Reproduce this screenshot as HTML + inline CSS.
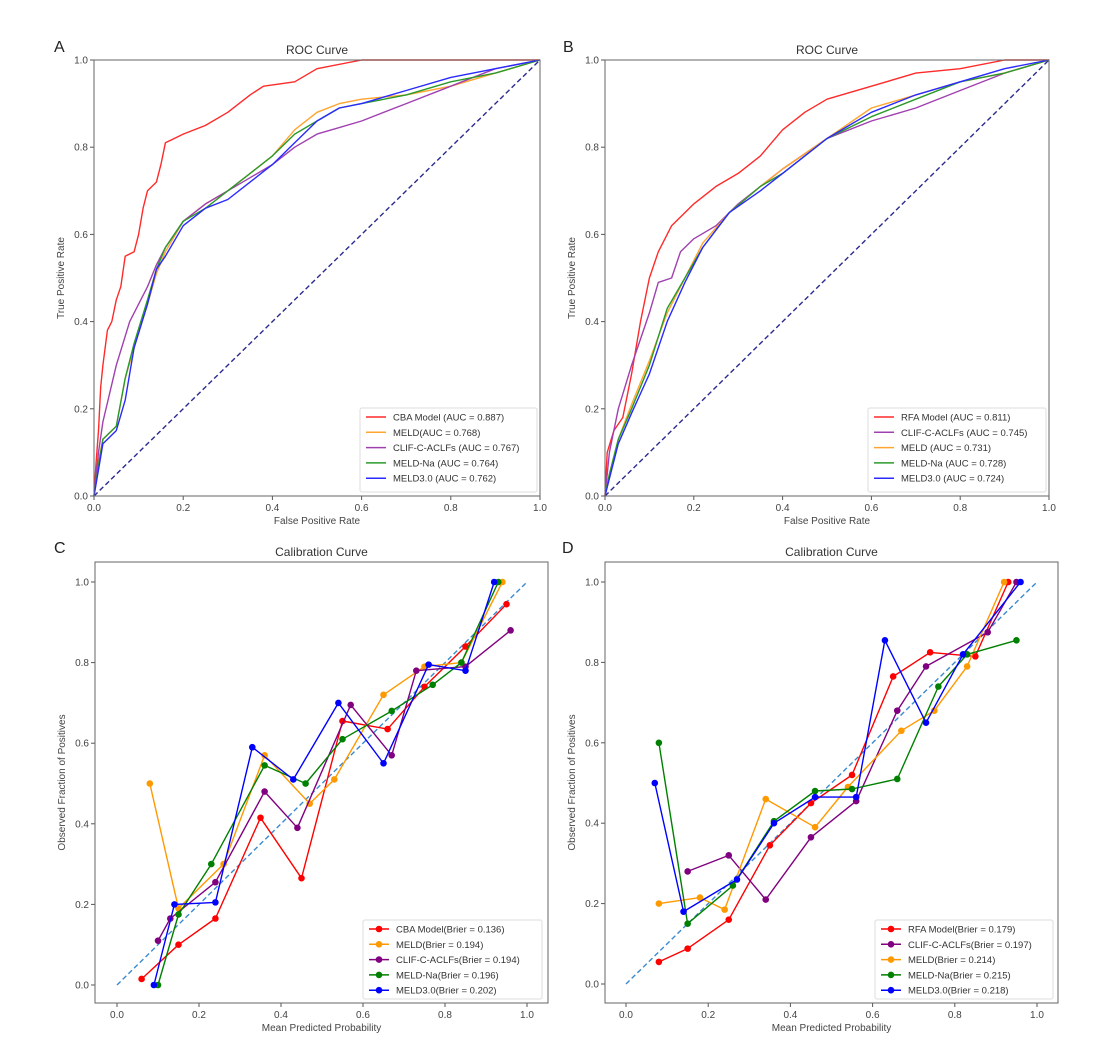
<!DOCTYPE html>
<html><head><meta charset="utf-8"><style>
html,body{margin:0;padding:0;background:#fff;}
svg{display:block;font-family:"Liberation Sans","DejaVu Sans",sans-serif;}
</style></head><body>
<svg id="fig" width="1119" height="1059" viewBox="0 0 1119 1059" xmlns="http://www.w3.org/2000/svg"></svg>
<script>
// ---- Data ----
const rocA_names = ["CBA Model (AUC = 0.887)","MELD(AUC = 0.768)","CLIF-C-ACLFs (AUC = 0.767)","MELD-Na (AUC = 0.764)","MELD3.0 (AUC = 0.762)"];
const rocA_colors = ["#ff2a2a","#ffa530","#a040b0","#2a9a2a","#2a2aff"];
const rocA_red_x = [0,0.005,0.01,0.015,0.02,0.03,0.04,0.05,0.06,0.07,0.09,0.1,0.11,0.12,0.14,0.15,0.16,0.18,0.2,0.25,0.3,0.35,0.38,0.45,0.5,0.6,0.78,1];
const rocA_red_y = [0,0.08,0.15,0.25,0.3,0.38,0.40,0.45,0.48,0.55,0.56,0.6,0.66,0.7,0.72,0.76,0.81,0.82,0.83,0.85,0.88,0.92,0.94,0.95,0.98,1.0,1.0,1];
const rocA_orange_x = [0,0.01,0.02,0.05,0.07,0.09,0.12,0.14,0.16,0.2,0.25,0.3,0.35,0.4,0.45,0.5,0.55,0.6,0.7,0.8,0.9,1];
const rocA_orange_y = [0,0.08,0.13,0.16,0.27,0.34,0.44,0.51,0.56,0.63,0.67,0.70,0.74,0.78,0.84,0.88,0.90,0.91,0.92,0.94,0.97,1];
const rocA_purple_x = [0,0.01,0.02,0.05,0.08,0.12,0.14,0.16,0.2,0.25,0.3,0.35,0.4,0.45,0.5,0.6,0.7,0.8,0.9,1];
const rocA_purple_y = [0,0.1,0.17,0.30,0.40,0.48,0.53,0.57,0.63,0.67,0.70,0.73,0.76,0.80,0.83,0.86,0.90,0.94,0.98,1];
const rocA_green_x = [0,0.01,0.02,0.05,0.07,0.09,0.12,0.14,0.16,0.2,0.25,0.3,0.35,0.4,0.45,0.5,0.55,0.6,0.7,0.8,0.9,1];
const rocA_green_y = [0,0.07,0.13,0.16,0.27,0.35,0.45,0.52,0.57,0.63,0.66,0.70,0.74,0.78,0.83,0.86,0.89,0.90,0.92,0.95,0.97,1];
const rocA_blue_x = [0,0.01,0.02,0.05,0.07,0.09,0.12,0.14,0.16,0.2,0.25,0.3,0.35,0.4,0.45,0.5,0.55,0.6,0.7,0.8,0.9,1];
const rocA_blue_y = [0,0.06,0.12,0.15,0.22,0.34,0.44,0.52,0.55,0.62,0.66,0.68,0.72,0.76,0.81,0.86,0.89,0.90,0.93,0.96,0.98,1];

const rocB_names = ["RFA Model (AUC = 0.811)","CLIF-C-ACLFs (AUC = 0.745)","MELD (AUC = 0.731)","MELD-Na (AUC = 0.728)","MELD3.0 (AUC = 0.724)"];
const rocB_colors = ["#ff2a2a","#a040b0","#ffa530","#2a9a2a","#2a2aff"];
const rocB_red_x = [0,0.005,0.02,0.04,0.06,0.08,0.1,0.12,0.15,0.2,0.25,0.3,0.35,0.4,0.45,0.5,0.6,0.7,0.8,0.9,1];
const rocB_red_y = [0,0.1,0.15,0.18,0.28,0.40,0.50,0.56,0.62,0.67,0.71,0.74,0.78,0.84,0.88,0.91,0.94,0.97,0.98,1.0,1];
const rocB_purple_x = [0,0.01,0.03,0.06,0.1,0.12,0.15,0.17,0.2,0.25,0.3,0.4,0.5,0.6,0.7,0.8,0.9,1];
const rocB_purple_y = [0,0.1,0.2,0.3,0.42,0.49,0.5,0.56,0.59,0.62,0.67,0.75,0.82,0.86,0.89,0.93,0.97,1];
const rocB_orange_x = [0,0.01,0.03,0.06,0.1,0.14,0.18,0.22,0.28,0.35,0.4,0.5,0.6,0.7,0.8,0.9,1];
const rocB_orange_y = [0,0.05,0.13,0.21,0.31,0.42,0.50,0.58,0.65,0.71,0.75,0.82,0.89,0.92,0.95,0.97,1];
const rocB_green_x = [0,0.01,0.03,0.06,0.1,0.14,0.18,0.22,0.28,0.35,0.4,0.5,0.6,0.7,0.8,0.9,1];
const rocB_green_y = [0,0.05,0.13,0.2,0.30,0.43,0.50,0.57,0.65,0.71,0.74,0.82,0.87,0.91,0.95,0.97,1];
const rocB_blue_x = [0,0.01,0.03,0.06,0.1,0.14,0.18,0.22,0.28,0.35,0.4,0.5,0.6,0.7,0.8,0.9,1];
const rocB_blue_y = [0,0.04,0.12,0.19,0.28,0.40,0.49,0.57,0.65,0.70,0.74,0.82,0.88,0.92,0.95,0.98,1];

const calC_names = ["CBA Model(Brier = 0.136)","MELD(Brier = 0.194)","CLIF-C-ACLFs(Brier = 0.194)","MELD-Na(Brier = 0.196)","MELD3.0(Brier = 0.202)"];
const calC_colors = ["#ff0000","#ff9900","#800080","#008000","#0000ff"];
const calC_red_x = [0.06,0.15,0.24,0.35,0.45,0.55,0.66,0.75,0.85,0.95];
const calC_red_y = [0.015,0.10,0.165,0.415,0.265,0.655,0.635,0.74,0.84,0.945];
const calC_orange_x = [0.08,0.15,0.26,0.36,0.47,0.53,0.65,0.75,0.84,0.94];
const calC_orange_y = [0.50,0.19,0.30,0.57,0.45,0.51,0.72,0.79,0.80,1.0];
const calC_purple_x = [0.1,0.13,0.24,0.36,0.44,0.57,0.67,0.73,0.85,0.96];
const calC_purple_y = [0.11,0.165,0.255,0.48,0.39,0.695,0.57,0.78,0.79,0.88];
const calC_green_x = [0.1,0.15,0.23,0.36,0.46,0.55,0.67,0.77,0.84,0.93];
const calC_green_y = [0.0,0.175,0.30,0.545,0.50,0.61,0.68,0.745,0.80,1.0];
const calC_blue_x = [0.09,0.14,0.24,0.33,0.43,0.54,0.65,0.76,0.85,0.92];
const calC_blue_y = [0.0,0.20,0.205,0.59,0.51,0.70,0.55,0.795,0.78,1.0];

const calD_names = ["RFA Model(Brier = 0.179)","CLIF-C-ACLFs(Brier = 0.197)","MELD(Brier = 0.214)","MELD-Na(Brier = 0.215)","MELD3.0(Brier = 0.218)"];
const calD_colors = ["#ff0000","#800080","#ff9900","#008000","#0000ff"];
const calD_red_x = [0.08,0.15,0.25,0.35,0.45,0.55,0.65,0.74,0.85,0.93];
const calD_red_y = [0.055,0.088,0.16,0.345,0.45,0.52,0.765,0.825,0.815,1.0];
const calD_purple_x = [0.15,0.25,0.34,0.45,0.56,0.66,0.73,0.88,0.95];
const calD_purple_y = [0.28,0.32,0.21,0.365,0.455,0.68,0.79,0.875,1.0];
const calD_orange_x = [0.08,0.18,0.24,0.34,0.46,0.54,0.67,0.75,0.83,0.92];
const calD_orange_y = [0.20,0.215,0.185,0.46,0.39,0.49,0.63,0.68,0.79,1.0];
const calD_green_x = [0.08,0.15,0.26,0.36,0.46,0.55,0.66,0.76,0.83,0.95];
const calD_green_y = [0.60,0.15,0.245,0.405,0.48,0.485,0.51,0.74,0.82,0.855];
const calD_blue_x = [0.07,0.14,0.27,0.36,0.46,0.56,0.63,0.73,0.82,0.96];
const calD_blue_y = [0.50,0.18,0.26,0.40,0.465,0.465,0.855,0.65,0.82,1.0];

const rocTicks = [0,0.2,0.4,0.6,0.8,1.0];
const calTicks = [0,0.2,0.4,0.6,0.8,1.0];

// ---- Drawing ----
const svg = document.getElementById('fig');
const NS = 'http://www.w3.org/2000/svg';
function mk(tag, attrs, parent){const e=document.createElementNS(NS,tag);for(const k in attrs)e.setAttribute(k,attrs[k]);(parent||svg).appendChild(e);return e;}
function txt(s, attrs, parent){const e=mk('text',attrs,parent);e.textContent=s;return e;}

function panel(cfg){
  const g = mk('g',{});
  
  
  const sx = v => cfg.x0 + (v - cfg.dmin)/(cfg.dmax-cfg.dmin)*(cfg.x1-cfg.x0);
  const sy = v => cfg.y0 - (v - cfg.dmin)/(cfg.dmax-cfg.dmin)*(cfg.y0-cfg.y1);
  const [fl,ft,fr,fb] = cfg.frame;
  const L = txt(cfg.letter,{x:cfg.letterX,y:cfg.letterY,'font-size':16,fill:'#222'},g);
  
  
  const T = txt(cfg.title,{x:(fl+fr)/2,y:ft-6,'font-size':12,'text-anchor':'middle',fill:'#333'},g);
  
  
  // ticks
  cfg.ticks.forEach(t=>{
    const X=sx(t), Y=sy(t);
    mk('line',{x1:X,y1:fb,x2:X,y2:fb+4,stroke:'#555','stroke-width':1},g);
    const xl = txt(t.toFixed(1),{x:X,y:fb+15,'font-size':10,'text-anchor':'middle',fill:'#444'},g);
    
    
    mk('line',{x1:fl-4,y1:Y,x2:fl,y2:Y,stroke:'#555','stroke-width':1},g);
    const yl = txt(t.toFixed(1),{x:fl-6,y:Y+3.5,'font-size':10,'text-anchor':'end',fill:'#444'},g);
    
    
  });
  const xt = txt(cfg.xlabel,{x:(fl+fr)/2,y:fb+28,'font-size':10,'text-anchor':'middle',fill:'#444'},g);
  
  
  const yx = fl-30, yy=(ft+fb)/2;
  const yt = txt(cfg.ylabel,{x:yx,y:yy,'font-size':10,'text-anchor':'middle',fill:'#444',transform:`rotate(-90 ${yx} ${yy})`},g);
  
  
  // diagonal
  const d = mk('line',{x1:sx(0),y1:sy(0),x2:sx(1),y2:sy(1),stroke:cfg.diagColor,'stroke-width':1.4,'stroke-dasharray':'5,3'},g);
  
  
  // series
  cfg.series.forEach((s,i)=>{
    const pts = s.x.map((v,j)=>sx(v).toFixed(1)+','+sy(s.y[j]).toFixed(1)).join(' ');
    const p = mk('polyline',{points:pts,fill:'none',stroke:cfg.colors[i],'stroke-width':1.4,'stroke-linejoin':'round'},g);
    
    
    if(cfg.markers){
      s.x.forEach((v,j)=>{
        const c = mk('circle',{cx:sx(v),cy:sy(s.y[j]),r:3.3,fill:cfg.colors[i]},g);
        
        
      });
    }
  });
  // frame
  mk('rect',{x:fl,y:ft,width:fr-fl,height:fb-ft,fill:'none',stroke:'#666','stroke-width':1},g);
  // legend
  const [lx,ly,lw,lh] = cfg.legend;
  const lg = mk('g',{},g);
  
  
  mk('rect',{x:lx,y:ly,width:lw,height:lh,fill:'#fff','fill-opacity':0.85,stroke:'#ddd','stroke-width':1,rx:2},lg);
  cfg.names.forEach((n,i)=>{
    const yy2 = ly+9+i*15.3;
    mk('line',{x1:lx+6,y1:yy2,x2:lx+26,y2:yy2,stroke:cfg.colors[i],'stroke-width':1.5},lg);
    if(cfg.markers) mk('circle',{cx:lx+16,cy:yy2,r:3.3,fill:cfg.colors[i]},lg);
    const t = txt(n,{x:lx+33,y:yy2+3.5,'font-size':9.5,fill:'#333'},lg);
    
    
  });
}

panel({id:'roc-panel-a',letter:'A',letterX:54,letterY:52,title:'ROC Curve',xlabel:'False Positive Rate',ylabel:'True Positive Rate',
  x0:94,x1:540,y0:496,y1:60,dmin:0,dmax:1,frame:[94,60,540,496],ticks:rocTicks,diagColor:'#2a2a90',markers:false,
  colors:rocA_colors,names:rocA_names,legend:[360,408,177,84],
  series:[{x:rocA_red_x,y:rocA_red_y},{x:rocA_orange_x,y:rocA_orange_y},{x:rocA_purple_x,y:rocA_purple_y},{x:rocA_green_x,y:rocA_green_y},{x:rocA_blue_x,y:rocA_blue_y}]});
panel({id:'roc-panel-b',letter:'B',letterX:563,letterY:52,title:'ROC Curve',xlabel:'False Positive Rate',ylabel:'True Positive Rate',
  x0:605,x1:1049,y0:496,y1:60,dmin:0,dmax:1,frame:[605,60,1049,496],ticks:rocTicks,diagColor:'#2a2a90',markers:false,
  colors:rocB_colors,names:rocB_names,legend:[868,408,178,84],
  series:[{x:rocB_red_x,y:rocB_red_y},{x:rocB_purple_x,y:rocB_purple_y},{x:rocB_orange_x,y:rocB_orange_y},{x:rocB_green_x,y:rocB_green_y},{x:rocB_blue_x,y:rocB_blue_y}]});
panel({id:'calibration-panel-c',letter:'C',letterX:54,letterY:553,title:'Calibration Curve',xlabel:'Mean Predicted Probability',ylabel:'Observed Fraction of Positives',
  x0:117,x1:527,y0:985,y1:582,dmin:0,dmax:1,frame:[95,562,548,1003],ticks:calTicks,diagColor:'#3a8ad0',markers:true,
  colors:calC_colors,names:calC_names,legend:[363,920,179,79],
  series:[{x:calC_red_x,y:calC_red_y},{x:calC_orange_x,y:calC_orange_y},{x:calC_purple_x,y:calC_purple_y},{x:calC_green_x,y:calC_green_y},{x:calC_blue_x,y:calC_blue_y}]});
panel({id:'calibration-panel-d',letter:'D',letterX:562,letterY:553,title:'Calibration Curve',xlabel:'Mean Predicted Probability',ylabel:'Observed Fraction of Positives',
  x0:626,x1:1037,y0:984,y1:582,dmin:0,dmax:1,frame:[605,562,1058,1003],ticks:calTicks,diagColor:'#3a8ad0',markers:true,
  colors:calD_colors,names:calD_names,legend:[875,920,178,79],
  series:[{x:calD_red_x,y:calD_red_y},{x:calD_purple_x,y:calD_purple_y},{x:calD_orange_x,y:calD_orange_y},{x:calD_green_x,y:calD_green_y},{x:calD_blue_x,y:calD_blue_y}]});
</script>
</body></html>
